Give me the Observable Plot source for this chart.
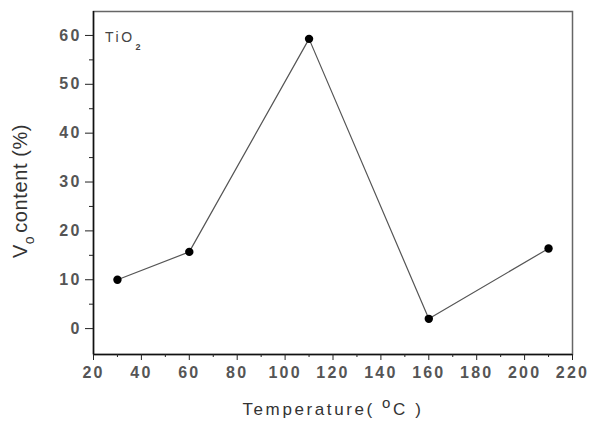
<!DOCTYPE html>
<html>
<head>
<meta charset="utf-8">
<script src="https://cdn.jsdelivr.net/npm/d3@7"></script>
<script src="https://cdn.jsdelivr.net/npm/@observablehq/plot@0.6"></script>
<style>
  html, body { margin: 0; padding: 0; background: #fff; }
  #chart { width: 590px; height: 421px; }
</style>
</head>
<body>
<div id="chart"></div>
<script>
// Data
const temperature = [30, 60, 110, 160, 210];       // °C
const voContent   = [10, 15.7, 59.3, 2.0, 16.4];   // %
const xTicks = [20, 40, 60, 80, 100, 120, 140, 160, 180, 200, 220];
const xMinorTicks = [30, 50, 70, 90, 110, 130, 150, 170, 190, 210];
const yTicks = [0, 10, 20, 30, 40, 50, 60];
const yMinorTicks = [5, 15, 25, 35, 45, 55];

const data = temperature.map((t, i) => ({t, v: voContent[i]}));

const W = 590, H = 421;
const mL = 93, mR = 18, mT = 11, mB = 67;

const chart = Plot.plot({
  width: W, height: H,
  marginLeft: mL, marginRight: mR, marginTop: mT, marginBottom: mB,
  style: {fontFamily: "'Liberation Sans', Arial, sans-serif", background: "#fff", color: "#333", fontSize: "16px"},
  x: {domain: [20, 220]},
  y: {domain: [-5.3, 64.9]},
  marks: [
    Plot.frame({stroke: "#666", strokeWidth: 1.5}),
    Plot.ruleX([20], {stroke: "#111", strokeWidth: 1.5}),
    Plot.ruleY([-5.3], {stroke: "#111", strokeWidth: 1.5}),
    Plot.axisX({ticks: xTicks, tickSize: 6, tickPadding: 6, label: null, stroke: "#222", fill: "#3a3a3a"}),
    Plot.axisX({ticks: xMinorTicks, tickSize: 3, text: null, label: null, stroke: "#222"}),
    Plot.axisY({ticks: yTicks, tickSize: 8, tickPadding: 4, label: null, stroke: "#222", fill: "#3a3a3a"}),
    Plot.axisY({ticks: yMinorTicks, tickSize: 4, text: null, label: null, stroke: "#222"}),
    Plot.line(data, {x: "t", y: "v", stroke: "#555", strokeWidth: 1.2}),
    Plot.dot(data, {x: "t", y: "v", r: 4.2, fill: "#000", stroke: "none"})
  ]
});

const svg = d3.select(chart);
const ff = "'Liberation Sans', Arial, sans-serif";

// Tick label styling
svg.selectAll('g[aria-label="x-axis tick label"] text, g[aria-label="y-axis tick label"] text')
  .attr("font-size", 16).attr("letter-spacing", "2.2px").attr("font-weight", "bold").attr("fill", "#555");

// In-plot label TiO2
const tio = svg.append("text")
  .attr("x", 105).attr("y", 42)
  .attr("text-anchor", "start")
  .attr("font-family", ff).attr("font-size", 14)
  .attr("letter-spacing", "2.5px").attr("fill", "#444");
tio.append("tspan").text("TiO");
tio.append("tspan").attr("dx", 1).attr("dy", 8).attr("font-size", 9).attr("font-weight", "bold").text("2");

// X axis label
const xl = svg.append("text")
  .attr("x", 333).attr("y", 415)
  .attr("text-anchor", "middle")
  .attr("font-family", ff).attr("font-size", 17)
  .attr("letter-spacing", "2.6px").attr("fill", "#333");
xl.append("tspan").text("Temperature( ");
xl.append("tspan").attr("dy", -7).attr("font-size", 15).text("o");
xl.append("tspan").attr("dy", 7).text("C )");

// Y axis label
const yl = svg.append("text")
  .attr("transform", "translate(27,191) rotate(-90)")
  .attr("text-anchor", "middle")
  .attr("font-family", ff).attr("font-size", 20)
  .attr("letter-spacing", "0.6px")
  .attr("fill", "#333");
yl.append("tspan").text("V");
yl.append("tspan").attr("dy", 7).attr("font-size", 14).text("o");
yl.append("tspan").attr("dy", -7).attr("dx", 3).text("content (%)");

document.getElementById("chart").appendChild(chart);
</script>
</body>
</html>
